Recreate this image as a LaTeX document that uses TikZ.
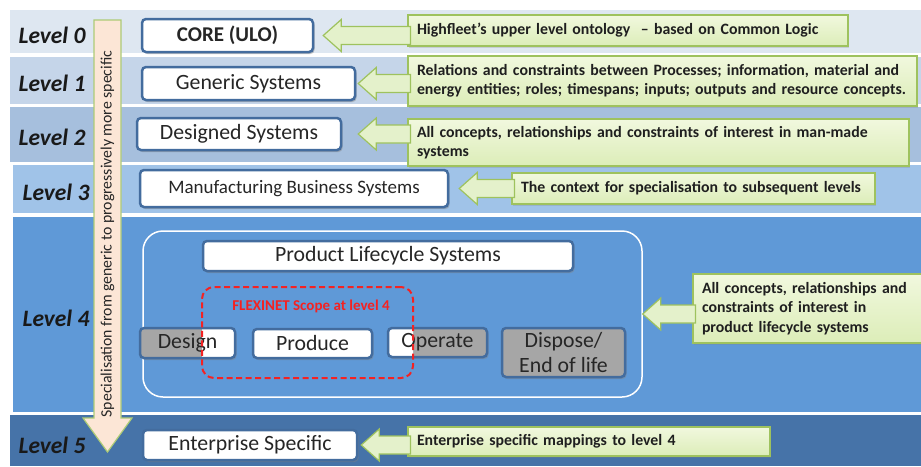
\documentclass[tikz,border=0pt]{standalone}
\usepackage{fontspec}
\setmainfont{Carlito}
\usepackage{tikz}
\usetikzlibrary{calc,shadows}
\usepackage{xcolor}
\definecolor{bandA}{HTML}{DEE7F1}
\definecolor{bandB}{HTML}{C5D5E9}
\definecolor{bandC}{HTML}{A6BFDD}
\definecolor{bandD}{HTML}{A0C3E8}
\definecolor{bandE}{HTML}{5F99D7}
\definecolor{bandF}{HTML}{4673A8}
\definecolor{boxblue}{HTML}{436C9E}
\definecolor{boxgrey}{HTML}{A6A6A6}
\definecolor{notegreen}{HTML}{9EC25E}
\definecolor{noteA}{HTML}{F1F8DE}
\definecolor{noteB}{HTML}{DCEDB8}
\definecolor{arrowgreen}{HTML}{E4F1CB}
\definecolor{peach}{HTML}{FCE6D6}
\definecolor{scopered}{HTML}{F42222}
% block arrow from a note (#2) to a box (#3), #1 = gap before the box
\newcommand{\notearrow}[3][6]{%
        \path[notearrow] let \p1=(#2.west), \p2=(#3.east) in
                (\x1+3pt,\y2+9pt) -- (\x2+#1pt+18pt,\y2+9pt) -- (\x2+#1pt+18pt,\y2+16pt) -- (\x2+#1pt,\y2)
                -- (\x2+#1pt+18pt,\y2-16pt) -- (\x2+#1pt+18pt,\y2-9pt) -- (\x1+3pt,\y2-9pt) -- cycle;}

\begin{document}
\begin{tikzpicture}[x=1pt,y=-1pt,
        lvl/.style={font=\fontsize{23.5}{23.5}\selectfont\bfseries\itshape, text=black!90},
        sysbox/.style={draw=boxblue, line width=2.5pt, fill=white, rounded corners=4pt, inner sep=0pt,
                align=center, font=\fontsize{21.8}{25}\selectfont, text=black!85,
                drop shadow={opacity=0.45, shadow xshift=1.5pt, shadow yshift=-2pt}},
        note/.style={draw=notegreen, line width=1.2pt, top color=noteA, bottom color=noteB,
                inner xsep=9pt, inner ysep=2pt, align=left, text=black!88,
                font=\fontsize{15.8}{19.5}\selectfont\bfseries,
                drop shadow={opacity=0.25, shadow xshift=1pt, shadow yshift=-1.5pt}},
        notearrow/.style={draw=notegreen, line width=1.2pt, fill=arrowgreen}]
        \useasboundingbox (0,0) rectangle (921,466);

        % bands
        \fill[bandA] (10,10) rectangle (921,53);
        \fill[bandB] (10,57) rectangle (921,104);
        \fill[bandC] (10,107) rectangle (921,162);
        \fill[bandD] (13,165) rectangle (921,213);
        \fill[bandE] (13,217) rectangle (921,412);
        \fill[bandF] (10,415) rectangle (921,466);

        \node[lvl] (l0) at (52,35) {Level 0};
        \node[lvl] (l1) at (52,83) {Level 1};
        \node[lvl] (l2) at (52,137) {Level 2};
        \node[lvl] (l3) at (56,192) {Level 3};
        \node[lvl] (l4) at (56,318) {Level 4};
        \node[lvl] (l5) at (52,445) {Level 5};

        % specialisation arrow
        \draw[draw=notegreen!85!white, line width=1.2pt, fill=peach]
                (94,20) -- (121,20) -- (121,418) -- (132,418) -- (107.5,452) -- (83,418) -- (94,418) -- cycle;
        \node[rotate=90, font=\fontsize{15.8}{15.8}\selectfont, text=black!85] (spec) at (107.5,234)
                {Specialisation from generic to progressively more specific};

        % systems
        \node[sysbox, minimum width=171pt, minimum height=33pt, font=\fontsize{21}{25}\selectfont\bfseries] (core) at (227.5,35.5) {CORE (ULO)};
        \node[sysbox, minimum width=213pt, minimum height=33pt] (gen) at (248.5,83.5) {Generic Systems};
        \node[sysbox, minimum width=204pt, minimum height=32pt] (des) at (239,134) {Designed Systems};
        \node[sysbox, minimum width=308pt, minimum height=37pt, font=\fontsize{19}{23}\selectfont] (man) at (294,188.5) {Manufacturing Business Systems};
        \node[sysbox, minimum width=214pt, minimum height=30pt] (ent) at (250,445) {Enterprise Specific};

        % level 4
        \node[draw=white, line width=1.5pt, rounded corners=20pt, minimum width=499pt, minimum height=166pt] (plc) at (392.5,314) {};
        \node[sysbox, minimum width=370pt, minimum height=30pt] (life) at (388,256) {Product Lifecycle Systems};
        \coordinate (sc-nw) at (202,287);
        \coordinate (sc-se) at (413,378);
        \node[sysbox, fill=boxgrey, minimum width=95pt, minimum height=30pt,
                path picture={\fill[white] (sc-nw) rectangle (sc-se);}] (design) at (187.5,343) {Design};
        \node[sysbox, minimum width=119pt, minimum height=29pt] (produce) at (312.5,343.5) {Produce};
        \node[sysbox, fill=boxgrey, minimum width=99pt, minimum height=29pt,
                path picture={\fill[white] (sc-nw) rectangle (sc-se);}] (operate) at (437.5,342.5) {Operate};
        \node[sysbox, fill=boxgrey, minimum width=123pt, minimum height=49pt] (dispose) at (563.5,352.5) {Dispose/\\End of life};
        \node[draw=scopered, dash pattern=on 6pt off 3.5pt, line width=2pt, rounded corners=12pt, minimum width=211pt, minimum height=91pt] (scope) at (307.5,332.5) {};
        \node[font=\fontsize{15}{15}\selectfont\bfseries, text=scopered] (flex) at (311,306) {FLEXINET Scope at level 4};

        % notes
        \node[note, minimum width=440pt, minimum height=31pt, text width=422pt] (n0) at (628,30.5)
                {Highfleet’s upper level ontology\ \ – based on Common Logic};
        \node[note, minimum width=509pt, minimum height=50pt, text width=491pt] (n1) at (662.5,81)
                {Relations and constraints between Processes; information, material and\\energy entities; roles; timespans; inputs; outputs and resource concepts.};
        \node[note, minimum width=501pt, minimum height=47pt, text width=483pt] (n2) at (658.5,142.5)
                {All concepts, relationships and constraints of interest in man-made\\systems};
        \node[note, minimum width=363pt, minimum height=31pt, text width=345pt] (n3) at (693.5,188.5)
                {The context for specialisation to subsequent levels};
        \node[note, minimum width=232pt, minimum height=69pt, text width=214pt] (n4) at (809,308.5)
                {All concepts, relationships and\\constraints of interest in\\product lifecycle systems};
        \node[note, minimum width=362pt, minimum height=29pt, text width=344pt] (n5) at (589,441.5)
                {Enterprise specific mappings to level 4};

        \notearrow[9]{n0}{core}
        \notearrow[2]{n1}{gen}
        \notearrow[16]{n2}{des}
        \notearrow[10]{n3}{man}
        \notearrow[0]{n4}{plc}
        \notearrow[3]{n5}{ent}
\end{tikzpicture}
\end{document}
